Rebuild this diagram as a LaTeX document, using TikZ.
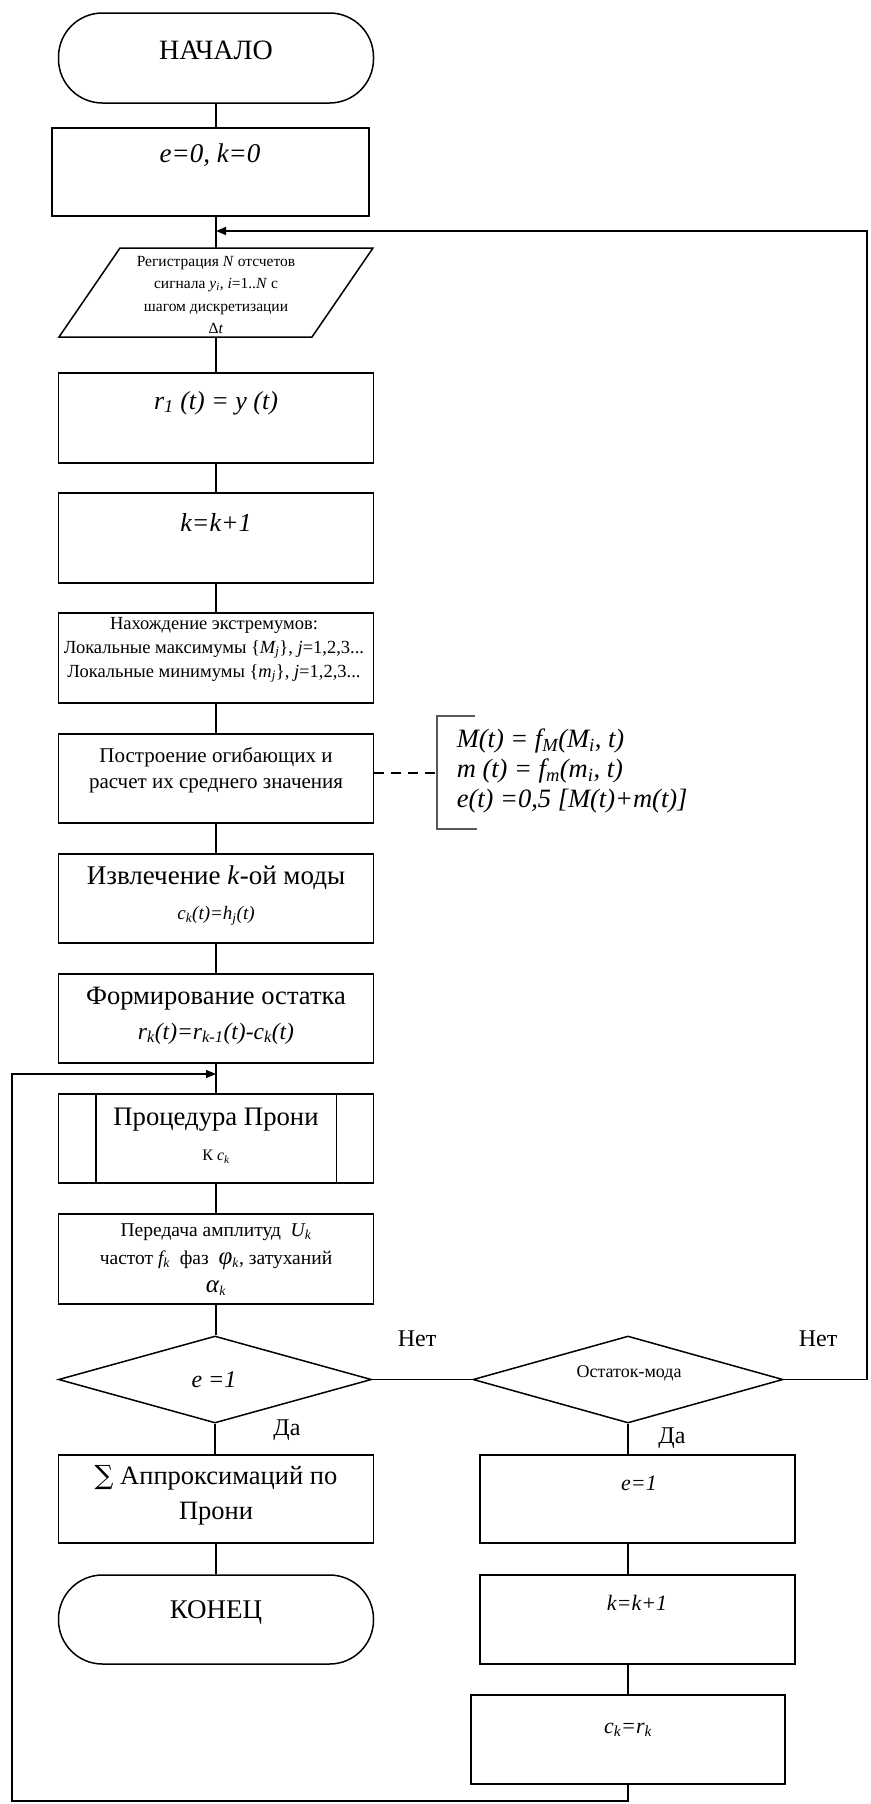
\documentclass[tikz,border=0pt]{standalone}
\usepackage{fontspec}
\setmainfont{Liberation Serif}
\newfontfamily\dvs{DejaVu Serif}
\usetikzlibrary{arrows.meta,shapes.geometric}
\newcommand\sbs[1]{\textsubscript{#1}}
\newcommand\fs[2]{\fontsize{#1}{#2}\selectfont}
\begin{document}
\begin{tikzpicture}[x=1pt,y=-1pt,
  line width=1.5pt,
  box/.style={draw, rectangle, minimum width=315pt, minimum height=89pt, inner sep=0pt},
  term/.style={box, rounded corners=44pt},
  dec/.style={draw, diamond, inner sep=0pt, minimum width=313pt, minimum height=87pt},
  txt/.style={inner sep=0pt, align=center, text=black},
  arr/.style={-{Triangle[length=10pt,width=8pt]}},
  brk/.style={line width=2.2pt, draw=black!65},
  lbl/.style={inner sep=0pt, font=\fs{24}{28}}]
\useasboundingbox (0,0) rectangle (870,1804);

% ---- main column shapes
\node[term] (start) at (216,58) [minimum height=90pt] {};
\node[box, minimum width=317pt, minimum height=88pt] (init) at (210.5,172) {};
\coordinate (regT) at (216,248);
\coordinate (regB) at (216,337);
\draw (120,248) -- (373,248) -- (312,337) -- (59,337) -- cycle;
\node[box, minimum height=90pt] (r1) at (216,418) {};
\node[box, minimum height=90pt] (kk) at (216,538) {};
\node[box, minimum height=90pt] (ext) at (216,658) {};
\node[box] (env) at (216,778.5) {};
\node[box] (extr) at (216,898.5) {};
\node[box] (res) at (216,1018.5) {};
\node[box] (pr) at (216,1138.5) {};
\draw ([xshift=38pt]pr.north west) -- ([xshift=38pt]pr.south west);
\draw ([xshift=-38pt]pr.north east) -- ([xshift=-38pt]pr.south east);
\node[box, minimum height=90pt] (per) at (216,1259) {};
\node[dec] (d1) at (215,1379.5) {};
\node[box, minimum height=88pt] (sum) at (216,1499) {};
\node[term] (fin) at (216,1619.5) {};
% ---- right column shapes
\node[dec, minimum width=310pt] (d2) at (628,1379.5) {};
\node[box, minimum height=88pt] (e1) at (637.5,1499) {};
\node[box] (kk2) at (637.5,1619.5) {};
\node[box, minimum width=314pt] (ck) at (628,1739.5) {};

% ---- texts
\node[txt, font=\fs{28}{32}] (tStart) at (216,50) {НАЧАЛО};
\node[txt, font=\fs{27}{30}] (tInit) at (210,155) {\textit{e=0, k=0}};
\node[txt, font=\fs{15.5}{22.5}] (tReg) at (216,295) {Регистрация \textit{N} отсчетов\\сигнала \textit{y\sbs{i}}, \textit{i}=1..\textit{N} с\\шагом дискретизации\\Δ\textit{t}};
\node[txt, font=\fs{26}{30}] (tR1) at (216,403) {\textit{r\sbs{1} (t) = y (t)}};
\node[txt, font=\fs{26}{30}] (tK) at (216,522) {\textit{k=k+1}};
\node[txt, font=\fs{18.5}{24}] (tExt) at (214,650) {Нахождение экстремумов:\\Локальные максимумы \{\textit{M\sbs{j}}\}, \textit{j}=1,2,3...\\Локальные минимумы \{\textit{m\sbs{j}}\}, \textit{j}=1,2,3...};
\node[txt, font=\fs{21}{26}] (tEnv) at (216,770) {Построение огибающих и\\расчет их среднего значения};
\node[txt, font=\fs{26.5}{30}, align=left, anchor=west] (tForm) at (456,771) {\textit{M(t) = f\sbs{M}(M\sbs{i}, t)}\\\textit{m (t) = f\sbs{m}(m\sbs{i}, t)}\\\textit{e(t) =0,5 [M(t)+m(t)]}};
\node[txt, font=\fs{27}{35}] (tExtr) at (216,895.5) {Извлечение \textit{k}-ой моды\\{\fs{19}{35}\textit{c\sbs{k}(t)=h\sbs{j}(t)}}};
\node[txt, font=\fs{26.5}{35}] (tRes) at (216,1015.5) {Формирование остатка\\{\fs{23.5}{35}\textit{r\sbs{k}(t)=r\sbs{k-1}(t)-c\sbs{k}(t)}}};
\node[txt, font=\fs{26.7}{35}] (tPr) at (216,1135.5) {Процедура Прони\\{\fs{16}{35}К \textit{c\sbs{k}}}};
\node[txt, font=\fs{19.5}{28}] (tPer) at (216,1260) {Передача амплитуд\ \ \textit{U\sbs{k}}\\частот \textit{f\sbs{k}}\ \ фаз\ \ {\fs{25}{28}\textit{φ}}\sbs{\textit{k}}, затуханий\\{\fs{25}{28}\textit{α}}\sbs{\textit{k}}};
\node[txt, font=\fs{24}{28}] (tD1) at (214,1380) {\textit{e =1}};
\node[txt, font=\fs{18}{20}] (tD2) at (629,1373) {Остаток-мода};
\node[txt, font=\fs{26.5}{35}] (tSum) at (216,1495.5) {{\dvs ∑} Аппроксимаций по\\Прони};
\node[txt, font=\fs{27}{30}] (tFin) at (216,1612) {КОНЕЦ};
\node[txt, font=\fs{22}{26}] (tE1) at (639,1483) {\textit{e=1}};
\node[txt, font=\fs{22}{26}] (tK2) at (637,1603) {\textit{k=k+1}};
\node[txt, font=\fs{22}{26}] (tCk) at (628,1730) {\textit{c\sbs{k}=r\sbs{k}}};
\node[lbl] (no1) at (417,1339) {Нет};
\node[lbl] (no2) at (818,1339) {Нет};
\node[lbl] (yes1) at (287,1430) {Да};
\node[lbl] (yes2) at (672,1438) {Да};

% ---- formula bracket
\coordinate (br) at (437,773);
\draw[brk] (475,716) -- (437,716) -- (437,829) -- (477,829);
\draw[dashed, dash pattern=on 10pt off 7pt, line width=1.3pt] (env.east |- br) -- (br);

% ---- connectors main column
\draw (start.south) -- (start.south |- init.north);
\draw (start.south |- init.south) -- (regT);
\draw (regB) -- (r1.north);
\draw (r1) -- (kk);
\draw (kk) -- (ext);
\draw (ext) -- (env);
\draw (env) -- (extr);
\draw (extr) -- (res);
\draw (res) -- (pr);
\draw (pr) -- (per);
\draw (per.south) -- (per.south |- d1.north);
\draw (d1.south) -- (d1.south |- sum.north);
\draw (sum) -- (fin);
\draw (d1.east) -- (d2.west);
% ---- connectors right column
\draw (d2.south) -- (d2.south |- e1.north);
\draw (e1.south -| d2.south) -- (kk2.north -| d2.south);
\draw (kk2.south -| d2.south) -- (ck.north);
% ---- loops
\coordinate (jt) at (216,231);
\coordinate (rt) at (867,231);
\coordinate (jn) at (216,1074);
\coordinate (bl) at (12,1801);
\draw[arr] (d2.east) -- (d2.east -| rt) -- (rt) -- (jt);
\draw[arr] (ck.south) -- (ck.south |- bl) -- (bl) |- (jn);
\end{tikzpicture}
\end{document}
